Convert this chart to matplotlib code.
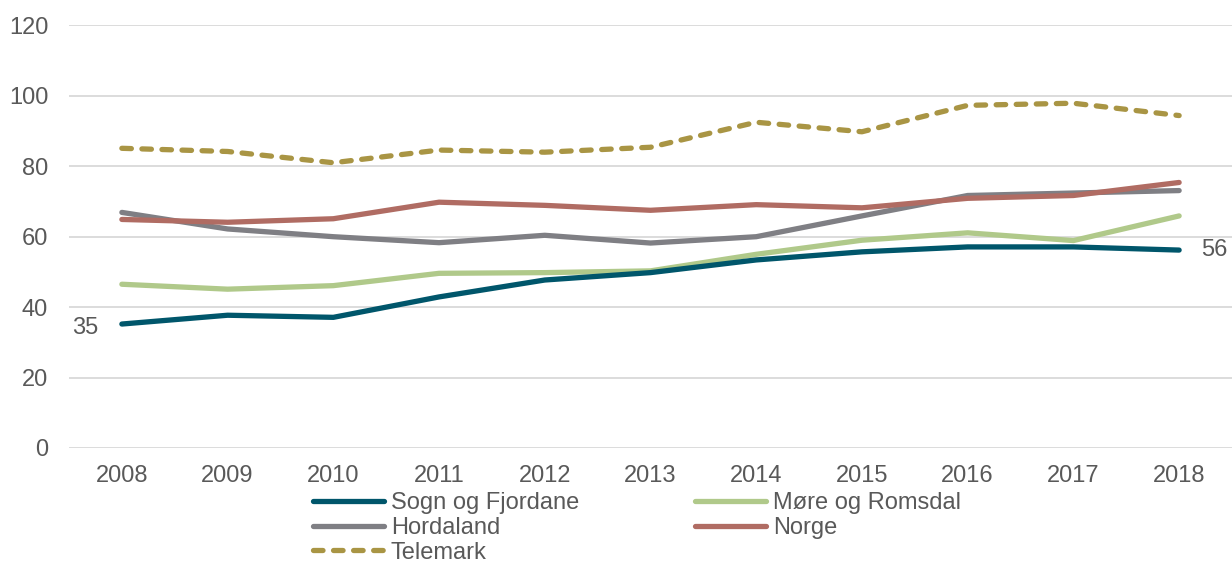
import matplotlib
matplotlib.use("Agg")
import matplotlib.pyplot as plt

years = ["2008", "2009", "2010", "2011", "2012", "2013", "2014", "2015", "2016", "2017", "2018"]
sogn = [35.2, 37.7, 37.1, 42.9, 47.7, 49.8, 53.4, 55.7, 57.1, 57.1, 56.2]
more = [46.5, 45.1, 46.1, 49.6, 49.8, 50.3, 55.0, 59.0, 61.1, 58.9, 65.9]
hordaland = [66.9, 62.2, 60.0, 58.3, 60.4, 58.2, 60.0, 65.9, 71.7, 72.4, 73.1]
norge = [64.9, 64.1, 65.1, 69.8, 68.9, 67.5, 69.1, 68.2, 70.9, 71.7, 75.4]
telemark = [85.1, 84.2, 81.0, 84.6, 84.0, 85.4, 92.5, 89.8, 97.3, 97.9, 94.4]
yticks = [0, 20, 40, 60, 80, 100, 120]

plt.rcParams['font.family'] = ['Liberation Sans', 'DejaVu Sans']
txt = '#595959'
fs = 17

fig = plt.figure(figsize=(12.32, 5.64), dpi=100)
ax = fig.add_axes([69/1232, 116/564, 1 - 69/1232, (448 - 25.4)/564])

x = list(range(len(years)))
lw = 3.8
l1, = ax.plot(x, sogn, color='#00566B', lw=lw, solid_capstyle='round', label='Sogn og Fjordane', zorder=5)
l2, = ax.plot(x, more, color='#B0C98A', lw=lw, solid_capstyle='round', label='Møre og Romsdal', zorder=4)
l3, = ax.plot(x, hordaland, color='#7F7F84', lw=lw, solid_capstyle='round', label='Hordaland', zorder=3)
l4, = ax.plot(x, norge, color='#B06C63', lw=lw, solid_capstyle='round', label='Norge', zorder=3.5)
l5, = ax.plot(x, telemark, color='#A99544', lw=lw, ls=(0, (1.8, 2.0)), dash_capstyle='round', label='Telemark', zorder=3)

ax.set_xlim(-0.5, len(years) - 0.5)
ax.set_ylim(0, 120)
ax.set_yticks(yticks)
ax.set_xticks(x)
ax.set_xticklabels(years)
ax.tick_params(axis='both', length=0, labelsize=fs, colors=txt)
ax.tick_params(axis='y', pad=15)
ax.tick_params(axis='x', pad=12)
for s in ax.spines.values():
    s.set_visible(False)
ax.grid(axis='y', color='#D9D9D9', lw=1.3)
ax.set_axisbelow(True)

ax.annotate(f"{round(sogn[0])}", (x[0], sogn[0]), xytext=(-36, -3), textcoords='offset points',
            fontsize=fs, color=txt, va='center', ha='left')
ax.annotate(f"{round(sogn[-1])}", (x[-1], sogn[-1]), xytext=(16, 0), textcoords='offset points',
            fontsize=fs, color=txt, va='center', ha='left', annotation_clip=False)

fig.legend([l1, l3, l5, l2, l4], ['Sogn og Fjordane', 'Hordaland', 'Telemark', 'Møre og Romsdal', 'Norge'],
           ncol=2, loc='upper left', bbox_to_anchor=(313/1232, 1 - 492/564), frameon=False,
           fontsize=fs, handlelength=3.0, handletextpad=0.3, columnspacing=4.9,
           labelspacing=0.12, borderaxespad=0, borderpad=0, labelcolor=txt)

fig.savefig('out.png', dpi=100)
